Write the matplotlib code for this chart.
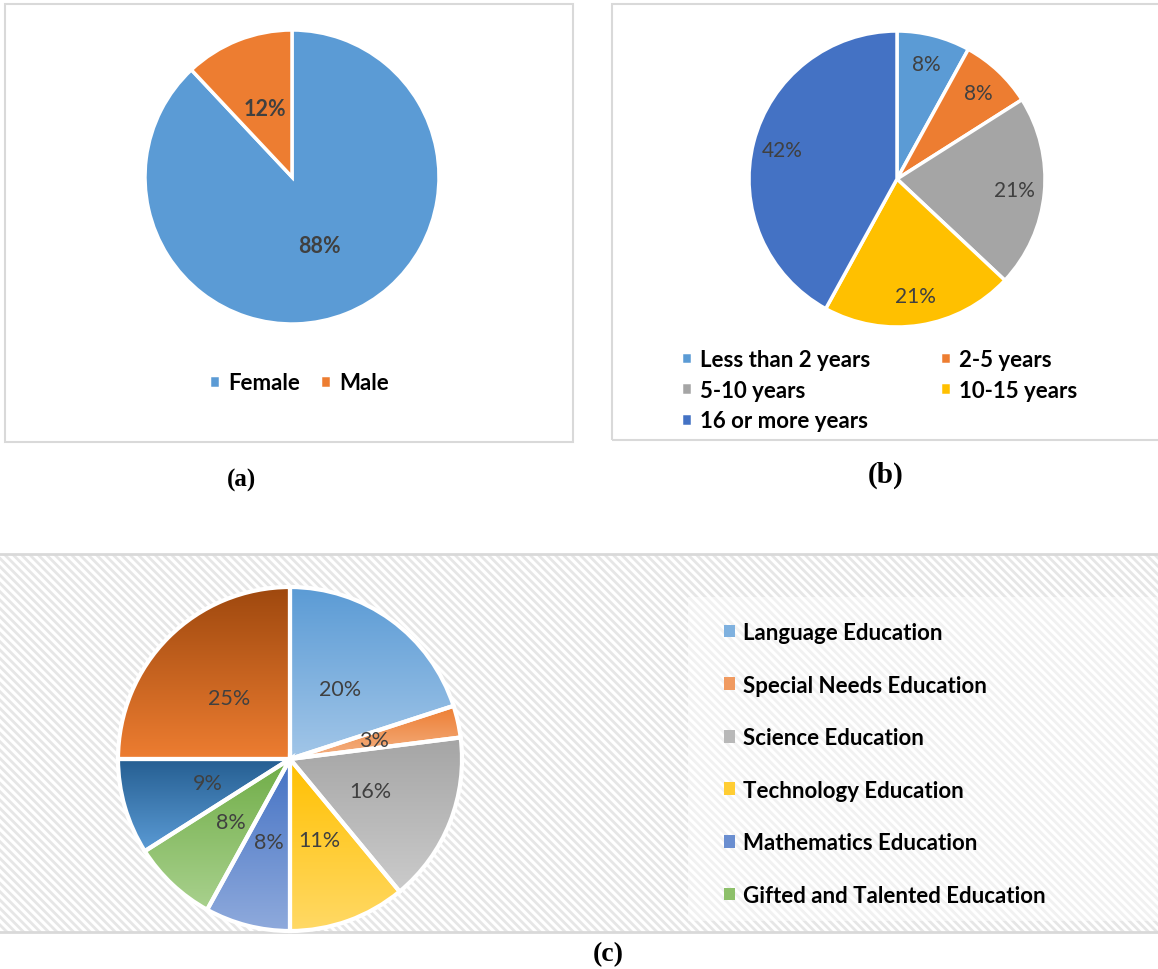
import matplotlib
matplotlib.use("Agg")
import matplotlib.pyplot as plt
from matplotlib.patches import Rectangle, Patch
from matplotlib.colors import LinearSegmentedColormap
import numpy as np

# ---- data -------------------------------------------------------------
gender_labels = ["Female", "Male"]
gender_values = [88, 12]

experience_labels = ["Less than 2 years", "2-5 years", "5-10 years",
                     "10-15 years", "16 or more years"]
experience_values = [8, 8, 21, 21, 42]

subject_labels = ["Language Education", "Special Needs Education",
                  "Science Education", "Technology Education",
                  "Mathematics Education", "Gifted and Talented Education"]
subject_values = [20, 3, 16, 11, 8, 8, 9, 25]

# ---- style ------------------------------------------------------------
W, H = 1158, 970
DPI = 100
FONT = ["Lato", "DejaVu Sans"]
SERIF = ["Liberation Serif", "DejaVu Serif"]
LABEL_CLR = "#404040"
FRAME_CLR = "#d9d9d9"
LEG_SIZE = 16

gender_colors = ["#5B9BD5", "#ED7D31"]
experience_colors = ["#5B9BD5", "#ED7D31", "#A5A5A5", "#FFC000", "#4472C4"]
# (top, bottom) colours of the vertical gradient in every subject wedge
subject_grad = [("#5B9BD5", "#A2C6E8"), ("#ED7D31", "#F4B183"),
                ("#A5A5A5", "#CBCBCB"), ("#FFC000", "#FFD966"),
                ("#4472C4", "#8FAADC"), ("#70AD47", "#A9D18E"),
                ("#255E91", "#5B9BD5"), ("#9E480E", "#ED7D31")]
subject_legend_colors = ["#7FB1DF", "#F09A60", "#B8B8B8", "#FFCD33",
                         "#6A8ED0", "#8DC06A"]

fig = plt.figure(figsize=(W / DPI, H / DPI), dpi=DPI)
fig.patch.set_facecolor("white")


def fx(x):
    return x / W


def fy(y):
    return 1 - y / H


PAD = 1.06


def pie_axes(cx, cy, r):
    s = r * PAD
    ax = fig.add_axes([fx(cx - s), fy(cy + s), 2 * s / W, 2 * s / H])
    ax.axis("off")
    return ax


def fix_limits(ax):
    ax.set_xlim(-PAD, PAD)
    ax.set_ylim(-PAD, PAD)
    ax.set_aspect("equal")


def frame(x0, y0, x1, y1):
    fig.patches.append(Rectangle((fx(x0), fy(y1)), fx(x1 - x0), (y1 - y0) / H,
                                 transform=fig.transFigure, fill=False,
                                 edgecolor=FRAME_CLR, linewidth=1.5, zorder=-1))


# ---- panel (a) --------------------------------------------------------
frame(5, 5, 573, 443)
ax_a = pie_axes(292, 178, 147)
wedges_a, _, auto_a = ax_a.pie(
    gender_values, colors=gender_colors, startangle=90, counterclock=False,
    radius=1, autopct="%1.0f%%", pctdistance=0.5,
    wedgeprops=dict(edgecolor="white", linewidth=2.5),
    textprops=dict(color=LABEL_CLR, fontsize=15.5, fontweight="bold", family=FONT))
fix_limits(ax_a)
ax_a.legend(wedges_a, gender_labels, ncol=2, frameon=False,
            loc="center", bbox_to_anchor=(fx(299), fy(384)),
            bbox_transform=fig.transFigure,
            prop=dict(family=FONT, weight="bold", size=LEG_SIZE),
            handlelength=0.5, handleheight=0.5, handletextpad=0.35,
            columnspacing=0.9)
fig.text(fx(241), fy(480), "(a)", ha="center", va="center",
         family=SERIF, fontweight="bold", fontsize=18)

# ---- panel (b) --------------------------------------------------------
frame(612, 5, 1170, 441)
ax_b = pie_axes(897, 180, 148)
wedges_b, _, auto_b = ax_b.pie(
    experience_values, colors=experience_colors, startangle=90,
    counterclock=False, radius=1, autopct="%1.0f%%", pctdistance=0.8,
    wedgeprops=dict(edgecolor="white", linewidth=2.5),
    textprops=dict(color=LABEL_CLR, fontsize=15, family=FONT))
fix_limits(ax_b)
# legend entries run across the rows, two per row
order_b = [0, 2, 4, 1, 3]
ax_b.legend([wedges_b[i] for i in order_b], [experience_labels[i] for i in order_b],
            ncol=2, frameon=False,
            loc="upper left", bbox_to_anchor=(fx(661), fy(330)),
            bbox_transform=fig.transFigure,
            prop=dict(family=FONT, weight="bold", size=LEG_SIZE),
            handlelength=0.5, handleheight=0.5, handletextpad=0.35,
            columnspacing=3.15, labelspacing=0.43)
fig.text(fx(886), fy(475), "(b)", ha="center", va="center",
         family=SERIF, fontweight="bold", fontsize=21)

# ---- panel (c) --------------------------------------------------------
plt.rcParams["hatch.linewidth"] = 2.0
bg = Rectangle((0, fy(933)), 1, (933 - 555) / H, transform=fig.transFigure,
               facecolor="white", edgecolor="#e6e6e6", hatch="\\\\\\\\",
               linewidth=0, zorder=-3)
fig.patches.append(bg)
fig.patches.append(Rectangle((fx(688), fy(922)), fx(1158 - 688), (922 - 598) / H,
                             transform=fig.transFigure, facecolor="white",
                             alpha=0.45, linewidth=0, zorder=-2))
for yy in (555, 933):
    fig.add_artist(plt.Line2D([0, 1], [fy(yy), fy(yy)], transform=fig.transFigure,
                              color=FRAME_CLR, linewidth=2, zorder=-1))

ax_c = pie_axes(290, 760, 172)
wedges_c, _, auto_c = ax_c.pie(
    subject_values, colors=["none"] * len(subject_values), startangle=90,
    counterclock=False, radius=1, autopct="%1.0f%%", pctdistance=0.5,
    wedgeprops=dict(edgecolor="white", linewidth=3),
    textprops=dict(color=LABEL_CLR, fontsize=15.5, family=FONT))
grad = np.linspace(0, 1, 256).reshape(-1, 1)
for w, (top, bottom) in zip(wedges_c, subject_grad):
    ext = w.get_path().get_extents()
    cmap = LinearSegmentedColormap.from_list("g", [top, bottom])
    im = ax_c.imshow(grad, cmap=cmap, aspect="auto", origin="upper",
                     extent=(ext.x0, ext.x1, ext.y0, ext.y1),
                     interpolation="bilinear", zorder=1)
    im.set_clip_path(w)
    w.set_zorder(2)
for t in auto_c:
    t.set_zorder(3)
fix_limits(ax_c)

handles_c = [Patch(facecolor=c, edgecolor="none") for c in subject_legend_colors]
fig.legend(handles_c, subject_labels, frameon=False,
           loc="upper left", bbox_to_anchor=(fx(704), fy(603)),
           bbox_transform=fig.transFigure,
           prop=dict(family=FONT, weight="bold", size=LEG_SIZE),
           handlelength=0.5, handleheight=0.5, handletextpad=0.35,
           labelspacing=1.42)
fig.text(fx(608), fy(955), "(c)", ha="center", va="center",
         family=SERIF, fontweight="bold", fontsize=20)

fig.savefig("out.png", dpi=DPI, facecolor="white")
